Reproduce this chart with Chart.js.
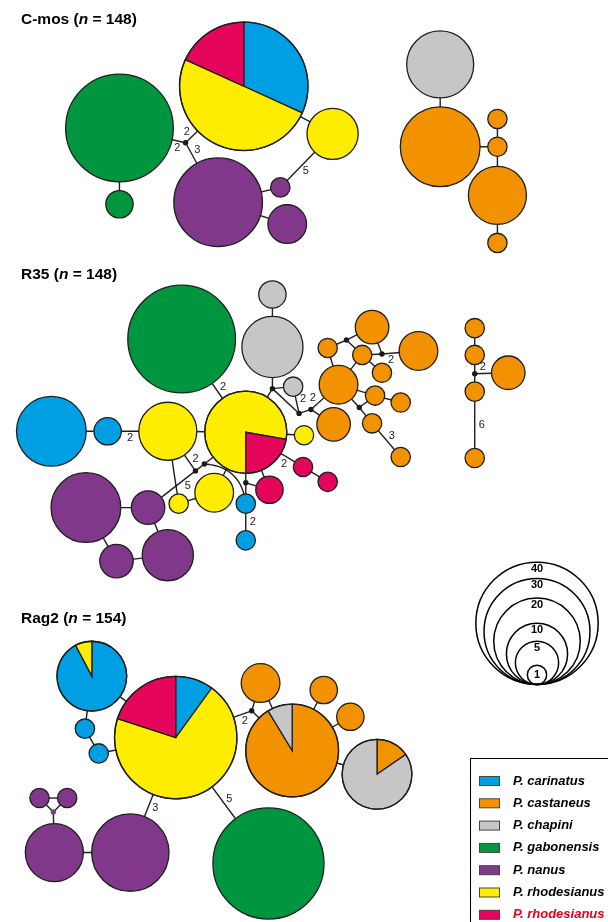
<!DOCTYPE html>
<html>
<head>
<meta charset="utf-8">
<script src="https://cdn.jsdelivr.net/npm/chart.js@4.4.1/dist/chart.umd.min.js"></script>
<style>
  html, body { margin: 0; padding: 0; background: #fff; }
  canvas { display: block; }
</style>
</head>
<body>
<canvas id="net" width="608" height="922"></canvas>
<script>
// species, in slice order (clockwise from 12 o'clock)
const species = ['P. carinatus', 'P. castaneus', 'P. chapini', 'P. gabonensis', 'P. nanus', 'P. rhodesianus', 'P. rhodesianus'];
const speciesColors = ['#009fe3', '#f39200', '#c6c6c6', '#009640', '#81378a', '#ffed00', '#e5055a'];
const scaleSizes = [40, 30, 20, 10, 5, 1];

// haplotype counts per species; null = median vector
// [carinatus, castaneus, chapini, gabonensis, nanus, rhod. yellow, rhod. red]
const cmosCounts = [
  [0,0,0,31,0,0,0], [0,0,0,2,0,0,0], [14,0,0,0,0,22,8], [0,0,0,0,0,7,0],
  [0,0,0,0,21,0,0], [0,0,0,0,1,0,0], [0,0,0,0,4,0,0], null,
  [0,0,12,0,0,0,0], [0,17,0,0,0,0,0], [0,1,0,0,0,0,0], [0,1,0,0,0,0,0],
  [0,9,0,0,0,0,0], [0,1,0,0,0,0,0]
];
const cmosX = [117, 117, 243, 333, 217, 280, 287, 184, 442, 442, 500, 500, 500, 500];
const cmosY = [125, 202, 83, 131, 200, 185, 222, 140, 61, 144, 116, 144, 193, 241];
// [from, to, mutational steps, label side, label position]
const cmosLinks = [
  [0,1], [0,7,2,1], [7,2,2,-1], [7,4,3,-1], [2,3], [4,5], [4,6], [5,3,5,1],
  [8,9], [9,11], [10,11], [11,12], [12,13]
];

const r35Counts = [
  [0,0,0,31,0,0,0], [0,0,2,0,0,0,0], [0,0,10,0,0,0,0], [0,0,1,0,0,0,0],
  [0,0,0,0,0,14,4], [0,0,0,0,0,9,0], [2,0,0,0,0,0,0], [13,0,0,0,0,0,0],
  [0,0,0,0,0,1,0], [0,0,0,0,0,0,1], [0,0,0,0,0,0,1], [0,0,0,0,0,0,2],
  null, [1,0,0,0,0,0,0], [1,0,0,0,0,0,0], null, null,
  [0,0,0,0,0,1,0], [0,0,0,0,0,4,0], [0,0,0,0,3,0,0], [0,0,0,0,13,0,0],
  [0,0,0,0,3,0,0], [0,0,0,0,7,0,0], null, null, null,
  [0,4,0,0,0,0,0], [0,1,0,0,0,0,0], [0,3,0,0,0,0,0], [0,1,0,0,0,0,0],
  [0,1,0,0,0,0,0], [0,4,0,0,0,0,0], [0,1,0,0,0,0,0], [0,1,0,0,0,0,0],
  [0,1,0,0,0,0,0], [0,1,0,0,0,0,0], [0,3,0,0,0,0,0], null, null, null,
  [0,1,0,0,0,0,0], [0,1,0,0,0,0,0], null, [0,1,0,0,0,0,0], [0,1,0,0,0,0,0],
  [0,3,0,0,0,0,0]
];
const r35X = [180, 272, 272, 293, 245, 166, 105, 48, 304, 303, 328, 269, 245, 245, 245, 203, 194,
  177, 213, 146, 83, 114, 166, 272, 299, 311, 339, 328, 373, 363, 383, 420, 376, 402, 373, 402,
  334, 347, 383, 360, 477, 477, 477, 477, 477, 511];
const r35Y = [338, 293, 346, 386, 432, 431, 431, 431, 435, 467, 482, 490, 483, 504, 541, 464, 471,
  504, 493, 508, 508, 562, 556, 388, 413, 409, 384, 347, 326, 354, 372, 350, 395, 402, 423, 457,
  424, 339, 353, 407, 327, 354, 373, 391, 458, 372];
const r35Rotation = { 4: 180 };
const r35Links = [
  [0,4,2,-1], [1,2], [2,23], [23,4], [23,3], [23,24], [3,24,2,-1,0.25], [24,25],
  [25,26,2,-1], [25,36], [26,27], [27,37], [37,28], [37,29], [29,26], [28,38], [29,38],
  [38,31,2,1], [29,30], [26,32], [26,39], [32,39], [32,33], [39,34], [34,35,3,-1],
  [40,41], [41,42], [42,43], [42,45,2,-1], [43,44,6,-1],
  [7,6], [6,5,2,1], [5,4], [4,8], [4,9,2,1], [9,10], [4,11], [4,12], [12,11],
  [12,13], [13,14,2,-1], [15,4], [15,16], [5,16,2,-1], [16,19,5,-1,0.35],
  [5,17], [17,18], [18,4], [20,19], [19,22], [21,22], [20,21]
];
// curved connections: [from, to, bend]
const r35Curves = [[15, 13, -24]];

const rag2Counts = [
  [12,0,0,0,0,1,0], [1,0,0,0,0,0,0], [1,0,0,0,0,0,0], [4,0,0,0,0,28,8],
  [0,0,0,0,1,0,0], [0,0,0,0,1,0,0], { mv: 4 }, [0,0,0,0,9,0,0], [0,0,0,0,16,0,0],
  [0,0,0,33,0,0,0], null, [0,4,0,0,0,0,0], [0,21,2,0,0,0,0], [0,2,0,0,0,0,0],
  [0,2,0,0,0,0,0], [0,2,11,0,0,0,0]
];
const rag2X = [89, 82, 96, 174, 36, 64, 50, 51, 128, 268, 251, 260, 292, 324, 351, 378];
const rag2Y = [678, 731, 756, 740, 801, 801, 815, 856, 856, 867, 713, 685, 753, 692, 719, 777];
const rag2Links = [
  [0,3], [0,1], [1,2], [2,3], [4,5], [4,6], [5,6], [6,7], [7,8], [8,3,3,1],
  [3,9,5,-1], [3,10,2,1], [10,11], [10,12], [11,12], [12,13], [12,14], [12,15]
];

const networks = [
  { name: 'C-mos', n: 148, counts: cmosCounts, x: cmosX, y: cmosY, links: cmosLinks, curves: [], rot: {}, ty: 24 },
  { name: 'R35', n: 148, counts: r35Counts, x: r35X, y: r35Y, links: r35Links, curves: r35Curves, rot: r35Rotation, ty: 279 },
  { name: 'Rag2', n: 154, counts: rag2Counts, x: rag2X, y: rag2Y, links: rag2Links, curves: [], rot: {}, ty: 623 }
];

const K = 9.8;            // radius per sqrt(count)
const LINE = '#1f1f1f';
const FONT = '"Liberation Sans", Arial, sans-serif';

function total(c) { return Array.isArray(c) ? c.reduce((a, b) => a + b, 0) : 0; }

// build line datasets for connections
const datasets = [];
const medPts = [], medCols = [];
networks.forEach(net => {
  net.counts.forEach((c, i) => {
    if (!Array.isArray(c)) {
      medPts.push({ x: net.x[i], y: net.y[i] });
      medCols.push(c && c.mv !== undefined ? speciesColors[c.mv] : '#1a1a1a');
    }
  });
});
datasets.push({ data: medPts, pointRadius: 2.7, pointBackgroundColor: medCols, pointBorderWidth: 0, showLine: false });
networks.forEach(net => {
  net.links.forEach(l => {
    datasets.push({
      data: [{ x: net.x[l[0]], y: net.y[l[0]] }, { x: net.x[l[1]], y: net.y[l[1]] }],
      showLine: true, pointRadius: 0, borderColor: LINE, borderWidth: 1.4
    });
  });
  net.curves.forEach(cv => {
    const ax = net.x[cv[0]], ay = net.y[cv[0]], bx = net.x[cv[1]], by = net.y[cv[1]];
    const d = Math.hypot(bx - ax, by - ay);
    const cx = (ax + bx) / 2 - (by - ay) / d * cv[2], cy = (ay + by) / 2 + (bx - ax) / d * cv[2];
    const pts = [];
    for (let s = 0; s <= 20; s++) {
      const t = s / 20;
      pts.push({ x: (1-t)*(1-t)*ax + 2*(1-t)*t*cx + t*t*bx, y: (1-t)*(1-t)*ay + 2*(1-t)*t*cy + t*t*by });
    }
    datasets.push({ data: pts, showLine: true, pointRadius: 0, borderColor: LINE, borderWidth: 1.4 });
  });
});

function drawNode(ctx, px, py, r, counts, rotDeg) {
  const sum = total(counts);
  const parts = counts.map((v, i) => [v, i]).filter(p => p[0] > 0);
  ctx.lineWidth = 1.3;
  ctx.strokeStyle = LINE;
  if (parts.length === 1) {
    ctx.beginPath();
    ctx.arc(px, py, r, 0, Math.PI * 2);
    ctx.fillStyle = speciesColors[parts[0][1]];
    ctx.fill();
  } else {
    let a0 = -Math.PI / 2 + rotDeg * Math.PI / 180;
    parts.forEach(p => {
      const a1 = a0 + p[0] / sum * Math.PI * 2;
      ctx.beginPath();
      ctx.moveTo(px, py);
      ctx.arc(px, py, r, a0, a1);
      ctx.closePath();
      ctx.fillStyle = speciesColors[p[1]];
      ctx.fill();
      ctx.stroke();
      a0 = a1;
    });
  }
  ctx.beginPath();
  ctx.arc(px, py, r, 0, Math.PI * 2);
  ctx.stroke();
}

const haploPlugin = {
  id: 'haplo',
  afterDatasetsDraw(chart) {
    const ctx = chart.ctx;
    const xs = chart.scales.x, ys = chart.scales.y;
    const rad = n => xs.getPixelForValue(K * Math.sqrt(n)) - xs.getPixelForValue(0);
    ctx.save();
    networks.forEach(net => {
      // nodes
      net.counts.forEach((c, i) => {
        if (!Array.isArray(c)) return;
        drawNode(ctx, xs.getPixelForValue(net.x[i]), ys.getPixelForValue(net.y[i]), rad(total(c)), c, net.rot[i] || 0);
      });
      // mutational step labels
      ctx.font = '11px ' + FONT;
      ctx.fillStyle = '#222';
      ctx.textAlign = 'center';
      ctx.textBaseline = 'middle';
      net.links.forEach(l => {
        if (!l[2]) return;
        const ax = xs.getPixelForValue(net.x[l[0]]), ay = ys.getPixelForValue(net.y[l[0]]);
        const bx = xs.getPixelForValue(net.x[l[1]]), by = ys.getPixelForValue(net.y[l[1]]);
        const d = Math.hypot(bx - ax, by - ay), ux = (bx - ax) / d, uy = (by - ay) / d;
        const ra = rad(total(net.counts[l[0]])), rb = rad(total(net.counts[l[1]]));
        const t = l[4] === undefined ? 0.5 : l[4];
        const s = ra + t * (d - ra - rb);
        const off = 7 * (l[3] || 1);
        ctx.fillText(String(l[2]), ax + ux * s - uy * off, ay + uy * s + ux * off);
      });
      // title
      let tx = 21;
      const parts = [[net.name + ' (', 'bold'], ['n', 'italic bold'], [' = ' + net.n + ')', 'bold']];
      ctx.textAlign = 'left';
      ctx.textBaseline = 'alphabetic';
      ctx.fillStyle = '#000';
      parts.forEach(p => {
        ctx.font = p[1] + ' 15.5px ' + FONT;
        ctx.fillText(p[0], tx, net.ty);
        tx += ctx.measureText(p[0]).width;
      });
    });

    // circle size scale
    const cx = 537, base = 684.5;
    ctx.lineWidth = 1.5;
    ctx.strokeStyle = '#000';
    ctx.fillStyle = '#000';
    ctx.font = 'bold 11px ' + FONT;
    ctx.textAlign = 'center';
    ctx.textBaseline = 'middle';
    scaleSizes.forEach(n => {
      const r = rad(n);
      ctx.beginPath();
      ctx.arc(cx, base - r, r, 0, Math.PI * 2);
      ctx.stroke();
      ctx.fillText(String(n), cx, base - 2 * r + (n === 1 ? 9.5 : 6.5));
    });

    // species legend
    ctx.lineWidth = 1;
    ctx.strokeStyle = '#000';
    ctx.strokeRect(470.5, 758.5, 200, 200);
    species.forEach((s, i) => {
      const y = 781 + i * 22.3;
      ctx.fillStyle = speciesColors[i];
      ctx.fillRect(479, y - 4.5, 20, 9);
      ctx.strokeStyle = '#444';
      ctx.strokeRect(479.5, y - 4.5, 20, 9);
      ctx.fillStyle = i === species.length - 1 ? '#e2001a' : '#000';
      ctx.font = 'italic bold 13px ' + FONT;
      ctx.textAlign = 'left';
      ctx.fillText(s, 513, y);
    });
    ctx.restore();
  }
};

new Chart(document.getElementById('net'), {
  type: 'scatter',
  data: { datasets: datasets },
  options: {
    responsive: false,
    animation: false,
    devicePixelRatio: 1,
    events: [],
    layout: { padding: 0 },
    plugins: { legend: { display: false }, tooltip: { enabled: false } },
    scales: {
      x: { type: 'linear', display: false, min: 0, max: 608 },
      y: { type: 'linear', display: false, min: 0, max: 922, reverse: true }
    }
  },
  plugins: [haploPlugin]
});
</script>
</body>
</html>
